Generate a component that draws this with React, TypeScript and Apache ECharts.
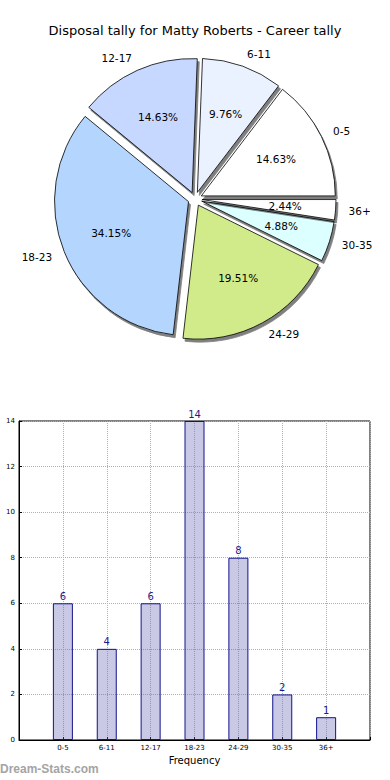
import React, { useEffect, useRef } from "react";
import * as echarts from "echarts";

const categories = ["0-5", "6-11", "12-17", "18-23", "24-29", "30-35", "36+"];
const tallyValues = [6, 4, 6, 14, 8, 2, 1];
const sliceColors = ["#ffffff", "#eaf1ff", "#c6d8ff", "#b4d5fe", "#d1eb8b", "#dcffff", "#ffffff"];
const titleText = "Disposal tally for Matty Roberts - Career tally";
const xAxisName = "Frequency";
const yAxisName = "Disposal Tally";
const watermark = "Dream-Stats.com";

const FONT = "DejaVu Sans";

export default function App() {
  const ref = useRef<HTMLDivElement>(null);
  useEffect(() => {
    if (!ref.current) return;
    const chart = echarts.init(ref.current, null, { renderer: "svg" });
    const R = 134;
    const center = [195, 199];
    const pieData = categories.map((c, i) => ({
      name: c,
      value: tallyValues[i],
      selected: true,
      itemStyle: { color: sliceColors[i] },
    }));
    const overlayData = categories.map((c, i) => ({
      name: c,
      value: tallyValues[i],
      selected: true,
    }));
    const baseItem = {
      borderColor: "#000",
      borderWidth: 0.8,
      shadowColor: "rgba(0,0,0,0.5)",
      shadowBlur: 0,
      shadowOffsetX: 2,
      shadowOffsetY: 3,
    };
    chart.setOption({
      animation: false,
      textStyle: { fontFamily: FONT },
      title: {
        text: titleText,
        left: "center",
        top: 19,
        textStyle: { fontFamily: FONT, fontSize: 13, fontWeight: "normal", color: "#000" },
      },
      graphic: [
        {
          type: "text",
          left: 0,
          top: 763,
          style: {
            text: watermark,
            fontFamily: "Liberation Sans",
            fontSize: 12,
            fontWeight: "bold",
            fill: "#a4a4a4",
          },
        },
      ],
      grid: {
        left: 19,
        top: 421,
        width: 351,
        height: 319,
        show: true,
        borderColor: "#000",
        borderWidth: 1,
        backgroundColor: "transparent",
        containLabel: false,
        outerBoundsMode: "none",
      },
      xAxis: {
        type: "value",
        min: -1,
        max: 7,
        interval: 1,
        name: xAxisName,
        nameLocation: "middle",
        nameGap: 15,
        nameTextStyle: { fontFamily: FONT, fontSize: 10, color: "#000" },
        axisLine: { show: true, onZero: false, lineStyle: { color: "#000" } },
        axisTick: { show: true, inside: true, length: 3, lineStyle: { color: "#000" } },
        axisLabel: {
          fontFamily: FONT,
          fontSize: 7,
          color: "#000",
          margin: 4,
          formatter: (v: number) => (v >= 0 && v < categories.length ? categories[v] : ""),
        },
        splitLine: { show: true, lineStyle: { type: "dotted", color: "#b0b0b0", width: 1 } },
      },
      yAxis: {
        type: "value",
        min: 0,
        max: 14,
        interval: 2,
        name: yAxisName,
        nameLocation: "middle",
        nameGap: 16,
        nameTextStyle: { fontFamily: FONT, fontSize: 10, color: "#000" },
        axisLine: { show: true, onZero: false, lineStyle: { color: "#000" } },
        axisTick: { show: true, inside: true, length: 3, lineStyle: { color: "#000" } },
        axisLabel: { fontFamily: FONT, fontSize: 7, color: "#000", margin: 4 },
        splitLine: { show: true, lineStyle: { type: "dotted", color: "#b0b0b0", width: 1 } },
      },
      series: [
        {
          type: "pie",
          center,
          radius: [0, R],
          startAngle: 0,
          clockwise: false,
          avoidLabelOverlap: false,
          selectedMode: "multiple",
          selectedOffset: 7,
          silent: true,
          data: pieData,
          itemStyle: baseItem,
          select: { itemStyle: baseItem },
          label: {
            show: true,
            position: "outside",
            formatter: "{b}",
            fontFamily: FONT,
            fontSize: 10.5,
            color: "#000",
            distanceToLabelLine: 0,
          },
          labelLine: { show: false, length: 13, length2: 0 },
        },
        {
          type: "pie",
          center,
          radius: [0, R * 1.2],
          startAngle: 0,
          clockwise: false,
          avoidLabelOverlap: false,
          selectedMode: "multiple",
          selectedOffset: 7,
          silent: true,
          z: 3,
          data: overlayData,
          itemStyle: { color: "rgba(0,0,0,0)", borderWidth: 0 },
          select: { itemStyle: { color: "rgba(0,0,0,0)", borderWidth: 0 } },
          label: {
            show: true,
            position: "inside",
            formatter: "{d}%",
            fontFamily: FONT,
            fontSize: 10.5,
            color: "#000",
          },
          labelLine: { show: false },
        },
        {
          type: "bar",
          data: tallyValues.map((v, i) => [i, v]),
          barWidth: 20,
          itemStyle: { color: "rgba(100,100,180,0.35)", borderColor: "#12128c", borderWidth: 1 },
          label: {
            show: true,
            position: "top",
            distance: 2,
            fontFamily: FONT,
            fontSize: 10,
            color: "#1c1c8c",
          },
        },
      ],
    });
    return () => chart.dispose();
  }, []);
  return (
    <div
      ref={ref}
      style={{ position: "fixed", left: 0, top: 0, width: 390, height: 780, background: "#fff" }}
    />
  );
}
